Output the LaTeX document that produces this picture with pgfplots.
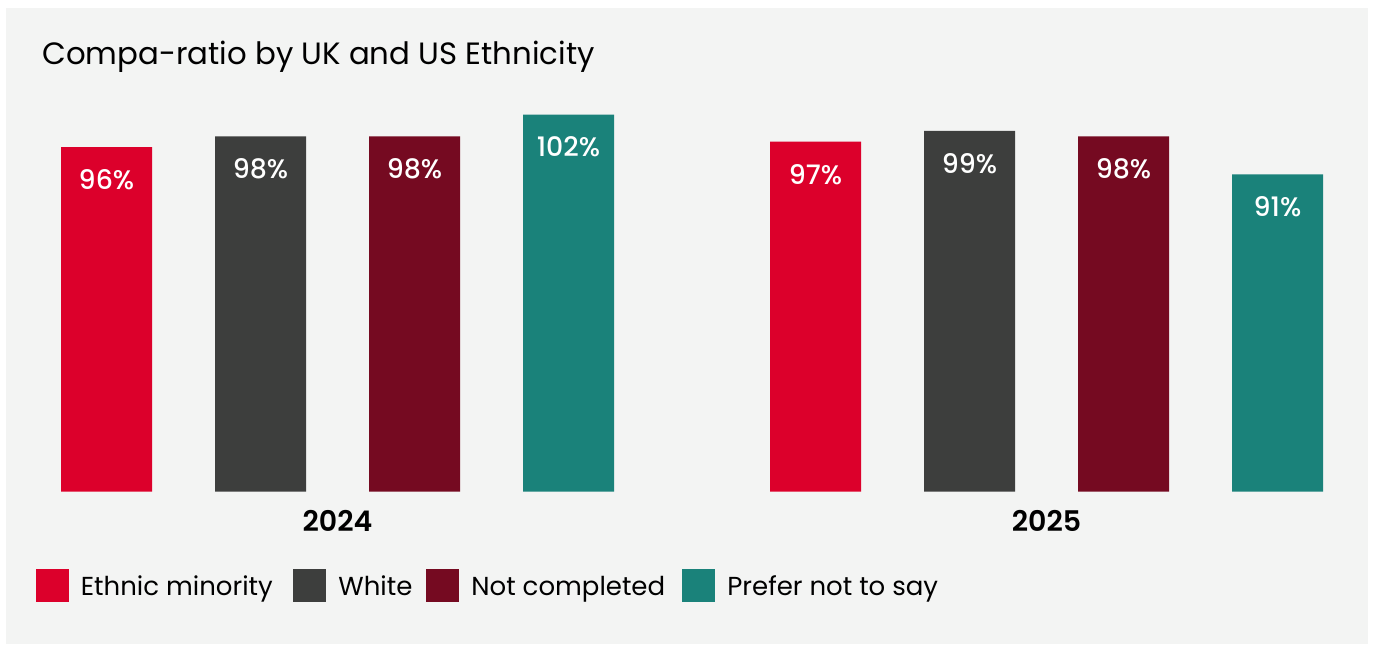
\documentclass[border=0pt]{standalone}
\usepackage{fontspec}
\setmainfont{Poppins}[BoldFont={Poppins SemiBold}]
\newfontfamily\medfont{Poppins Medium}
\usepackage{pgfplots}
\pgfplotsset{compat=1.18}
\definecolor{cRed}{RGB}{220,0,43}
\definecolor{cGray}{RGB}{61,62,61}
\definecolor{cDark}{RGB}{117,10,33}
\definecolor{cTeal}{RGB}{26,130,122}
\definecolor{cBg}{RGB}{243,244,243}
\begin{document}
\begin{tikzpicture}
\begin{scope}[x=0.5pt,y=0.5pt]
\fill[white] (0,0) rectangle (1373,644);
\fill[cBg] (6,0) rectangle (1368,636);
\end{scope}
\begin{axis}[
  at={(0pt,76.25pt)}, anchor=south west,
  scale only axis, width=686.5pt, height=245.75pt,
  xmin=0, xmax=1373, ymin=32.6, ymax=123.1,
  axis line style={draw=none}, tick style={draw=none},
  ytick=\empty,
  xtick={337.5,1046.5}, xticklabels={2024,2025},
  xticklabel style={anchor=base, yshift=-20.2pt, font=\fontsize{14.2}{16}\selectfont\bfseries, text=black},
  /pgf/number format/assume math mode=true,
  nodes near coords={\pgfmathprintnumber{\pgfplotspointmeta}\%},
  nodes near coords align={anchor=center},
  every node near coord/.append style={text=white, anchor=center, yshift=-16.25pt, font=\fontsize{13.4}{15}\selectfont\medfont},
]
\addplot[ybar, bar width=91, bar shift=0pt, fill=cRed, draw=none] coordinates {(106.5,96) (815.5,97)};
\addplot[ybar, bar width=91, bar shift=0pt, fill=cGray, draw=none] coordinates {(260.5,98) (969.5,99)};
\addplot[ybar, bar width=91, bar shift=0pt, fill=cDark, draw=none] coordinates {(414.5,98) (1123.5,98)};
\addplot[ybar, bar width=91, bar shift=0pt, fill=cTeal, draw=none] coordinates {(568.5,102) (1277.5,91)};
\end{axis}
\begin{scope}[x=0.5pt,y=0.5pt]
\node[anchor=base west, inner sep=0pt, font=\fontsize{15.4}{18}\selectfont] at (42,579) {Compa-ratio by UK and US Ethnicity};
\fill[cRed] (36,42.3) rectangle (69,75);
\fill[cGray] (293,42.3) rectangle (326,75);
\fill[cDark] (426,42.3) rectangle (459,75);
\fill[cTeal] (682,42.3) rectangle (715,75);
\begin{scope}[every node/.style={anchor=base west, inner sep=0pt, font=\fontsize{13}{15}\selectfont}]
\node at (80.5,49) {Ethnic minority};
\node at (338,49) {White};
\node at (471,49) {Not completed};
\node at (727,49) {Prefer not to say};
\end{scope}
\end{scope}
\pgfresetboundingbox
\path[use as bounding box] (0pt,0pt) rectangle (686.5pt,322pt);
\end{tikzpicture}
\end{document}
